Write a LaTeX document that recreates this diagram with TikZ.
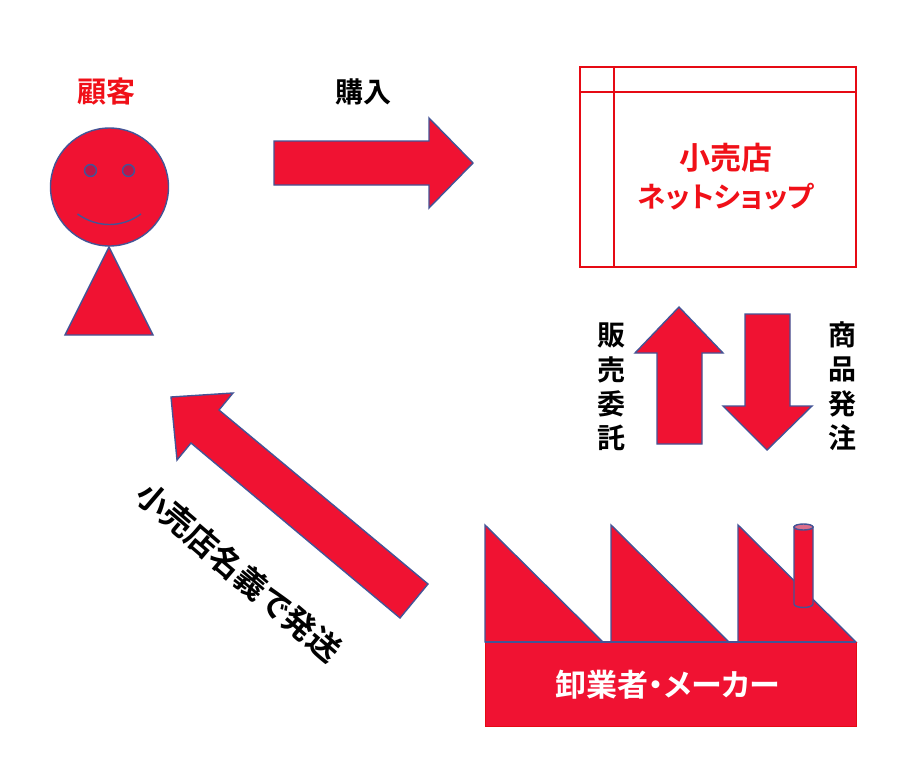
\documentclass[tikz,border=0pt]{standalone}
\usepackage{fontspec}
\setmainfont[BoldFont={Noto Sans CJK JP Bold}]{Noto Sans CJK JP}
\newfontfamily\tightfont[BoldFont={Noto Sans CJK JP Bold},RawFeature=+palt]{Noto Sans CJK JP}
\definecolor{fillred}{RGB}{240,18,50}
\definecolor{edgeblue}{RGB}{68,84,150}
\definecolor{textred}{RGB}{240,16,24}
\definecolor{framered}{RGB}{230,10,20}
\definecolor{eyered}{RGB}{190,20,70}
\definecolor{toppink}{RGB}{220,110,140}
\tikzset{
  redshape/.style={fill=fillred,draw=edgeblue,line width=1.4pt,line join=miter},
  txt/.style={inner sep=0pt,font=\bfseries\fontsize{28}{28}\selectfont},
  bigtxt/.style={inner sep=0pt,font=\tightfont\bfseries\fontsize{31}{39}\selectfont},
  frameline/.style={draw=framered,line width=1.5pt},
}
\begin{document}
\begin{tikzpicture}[x=1pt,y=-1pt]
\useasboundingbox (0,0) rectangle (922,763);
\fill[white] (0,0) rectangle (922,763);
% customer
\node[txt,text=textred,font=\bfseries\fontsize{29}{29}\selectfont] (customer) at (106,92) {顧客};
\draw[redshape] (109,335) -- (65,335) -- (109,247) -- (153,335) -- cycle;
\node[redshape,circle,minimum size=118pt,inner sep=0pt] (head) at (109.5,187) {};
\draw[redshape,fill=eyered] (90.5,170.5) circle (6pt);
\draw[redshape,fill=eyered] (128.5,170.5) circle (6pt);
\draw[edgeblue,line width=1.4pt] (77.5,214) .. controls (97,228) and (122,228) .. (141,214);
% buy arrow
\draw[redshape] (274,141) -- (429,141) -- (429,118) -- (473,163) -- (429,208) -- (429,185) -- (274,185) -- cycle;
\node[txt] (buy) at (363,92) {購入};
% shop window
\draw[frameline,fill=white] (580,67) rectangle (856,267);
\draw[frameline] (580,92) -- (856,92);
\draw[frameline] (614,67) -- (614,267);
\node[bigtxt,text=textred,align=center] (shop) at (726,177) {小売店\\[-1pt]{\fontsize{28.5}{39}\selectfont ネットショップ}};
% up and down arrows
\draw[redshape] (657,444) -- (657,353) -- (635,353) -- (679,307) -- (723,353) -- (702,353) -- (702,444) -- cycle;
\draw[redshape] (745,314) -- (790,314) -- (790,406) -- (812,406) -- (767,450) -- (723,406) -- (745,406) -- cycle;
\foreach \c/\y/\n in {販/335/a,売/370/b,委/404/c,託/438/d}
  \node[txt] (sell\n) at (611,\y) {\c};
\foreach \c/\y/\n in {商/335/a,品/369/b,発/404/c,注/438/d}
  \node[txt] (order\n) at (842,\y) {\c};
% ship arrow
\draw[redshape] (171,397) -- (233,393) -- (219,410) -- (428,584) -- (400,618) -- (191,443) -- (177,460) -- cycle;
\node[inner sep=0pt,rotate=-40.5,font=\bfseries\fontsize{32}{32}\selectfont] (ship) at (239,572) {小売店名義で発送};
% factory
\draw[redshape] (485,525) -- (485,642) -- (603,642) -- cycle;
\draw[redshape] (611,525) -- (611,642) -- (729,642) -- cycle;
\draw[redshape] (738,525) -- (738,642) -- (856,642) -- cycle;
\draw[fill=fillred,draw=framered,line width=1pt] (485,642) rectangle (856,726);
\draw[edgeblue,line width=1.4pt] (485,642) -- (856,642);
\node[bigtxt,text=white] (maker) at (668,685) {卸業者・メーカー};
% chimney
\draw[redshape] (794,527) -- (794,604) arc[start angle=180,end angle=360,x radius=9.5pt,y radius=3.5pt] -- (813,527) -- cycle;
\draw[redshape,fill=toppink] (803.5,527) ellipse (9.5pt and 3pt);
\end{tikzpicture}
\end{document}
